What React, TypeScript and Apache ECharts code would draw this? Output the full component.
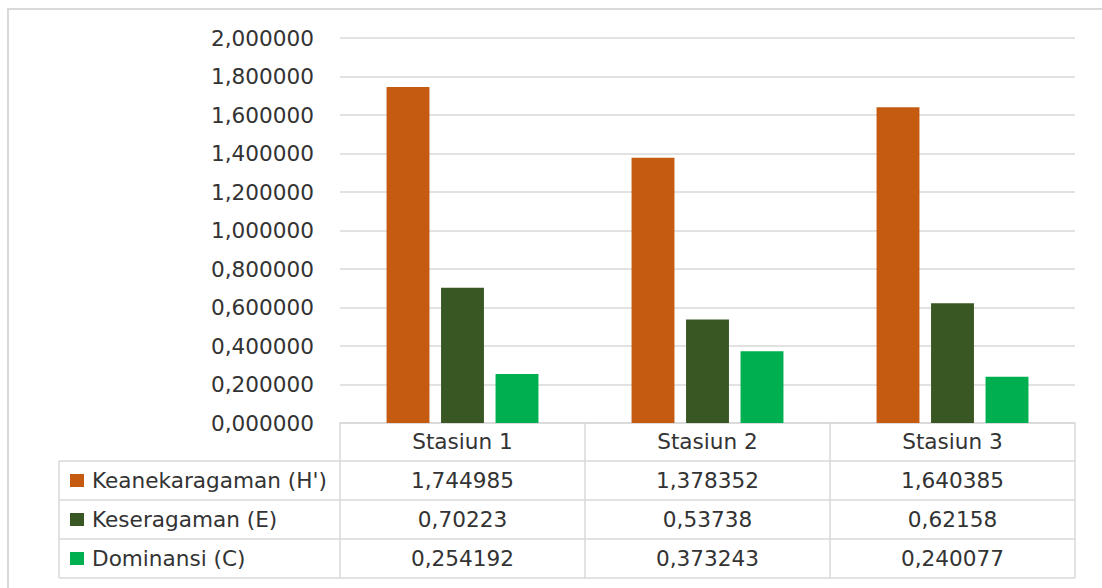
import React, { useEffect, useRef } from "react";
import * as echarts from "echarts";

const categories = ["Stasiun 1", "Stasiun 2", "Stasiun 3"];
const seriesNames = ["Keanekaragaman (H')", "Keseragaman (E)", "Dominansi (C)"];
const keanekaragaman = [1.744985, 1.378352, 1.640385];
const keseragaman = [0.70223, 0.53738, 0.62158];
const dominansi = [0.254192, 0.373243, 0.240077];
const colors = ["#C55A11", "#385723", "#00B050"];
const yTicks = { min: 0, max: 2, interval: 0.2 };

const FONT = "DejaVu Sans";
const FS = 21.6;
const TEXT = "#333333";
const LINE = "#d9d9d9";

const fmt = (v: number) => String(v).replace(".", ",");

export default function App() {
  const ref = useRef<HTMLDivElement>(null);
  useEffect(() => {
    if (!ref.current) return;
    const chart = echarts.init(ref.current, null, { renderer: "svg" });
    const allSeries = [keanekaragaman, keseragaman, dominansi];
    const rowAxis = (vals: number[], offset: number) => ({
      type: "category",
      data: categories,
      position: "bottom",
      offset,
      axisLine: { show: false },
      axisTick: { show: false },
      axisLabel: {
        interval: 0,
        margin: 8,
        fontFamily: FONT,
        fontSize: FS,
        lineHeight: 21,
        color: TEXT,
        formatter: (_: string, i: number) => fmt(vals[i]),
      },
    });
    const tableLeft = 59;
    const tableRight = 1075;
    const rowYs = [461, 500, 539, 578];
    chart.setOption({
      animation: false,
      backgroundColor: "#ffffff",
      textStyle: { fontFamily: FONT },
      grid: { left: 340, right: 27, top: 38, bottom: 165, containLabel: false },
      legend: {
        orient: "vertical",
        left: 65,
        top: 464.5,
        itemWidth: 14,
        itemHeight: 13,
        itemGap: 17,
        icon: "rect",
        selectedMode: false,
        data: seriesNames,
        textStyle: {
          fontFamily: FONT,
          fontSize: FS,
          lineHeight: 22,
          color: TEXT,
          padding: [0, 0, 0, 3],
        },
      },
      xAxis: [
        {
          type: "category",
          data: categories,
          position: "bottom",
          axisLine: { show: true, lineStyle: { color: LINE, width: 1.5 } },
          axisTick: {
            show: true,
            alignWithLabel: false,
            length: 155,
            lineStyle: { color: LINE, width: 1.5 },
          },
          axisLabel: {
            interval: 0,
            margin: 8,
            fontFamily: FONT,
            fontSize: FS,
            lineHeight: 21,
            color: TEXT,
          },
        },
        rowAxis(keanekaragaman, 39),
        rowAxis(keseragaman, 78),
        rowAxis(dominansi, 117),
      ],
      yAxis: {
        type: "value",
        min: yTicks.min,
        max: yTicks.max,
        interval: yTicks.interval,
        axisLine: { show: false },
        axisTick: { show: false },
        splitLine: { lineStyle: { color: LINE, width: 1.5 } },
        axisLabel: {
          margin: 26,
          fontFamily: FONT,
          fontSize: FS,
          color: TEXT,
          formatter: (v: number) => v.toFixed(6).replace(".", ","),
        },
      },
      series: seriesNames.map((name, i) => ({
        name,
        type: "bar",
        xAxisIndex: 0,
        data: allSeries[i],
        barCategoryGap: "38%",
        barGap: "27%",
        itemStyle: { color: colors[i] },
      })),
      graphic: [
        {
          type: "rect",
          silent: true,
          shape: { x: 8, y: 9, width: 1200, height: 700 },
          style: { fill: "none", stroke: LINE, lineWidth: 2 },
        },
        ...rowYs.map((y) => ({
          type: "line",
          silent: true,
          shape: { x1: tableLeft, y1: y, x2: tableRight, y2: y },
          style: { stroke: LINE, lineWidth: 1.5 },
        })),
        {
          type: "line",
          silent: true,
          shape: { x1: tableLeft, y1: rowYs[0], x2: tableLeft, y2: rowYs[3] },
          style: { stroke: LINE, lineWidth: 1.5 },
        },
      ],
    });
    return () => chart.dispose();
  }, []);
  return (
    <div
      ref={ref}
      style={{ position: "fixed", left: 0, top: 0, width: 1102, height: 588 }}
    />
  );
}
